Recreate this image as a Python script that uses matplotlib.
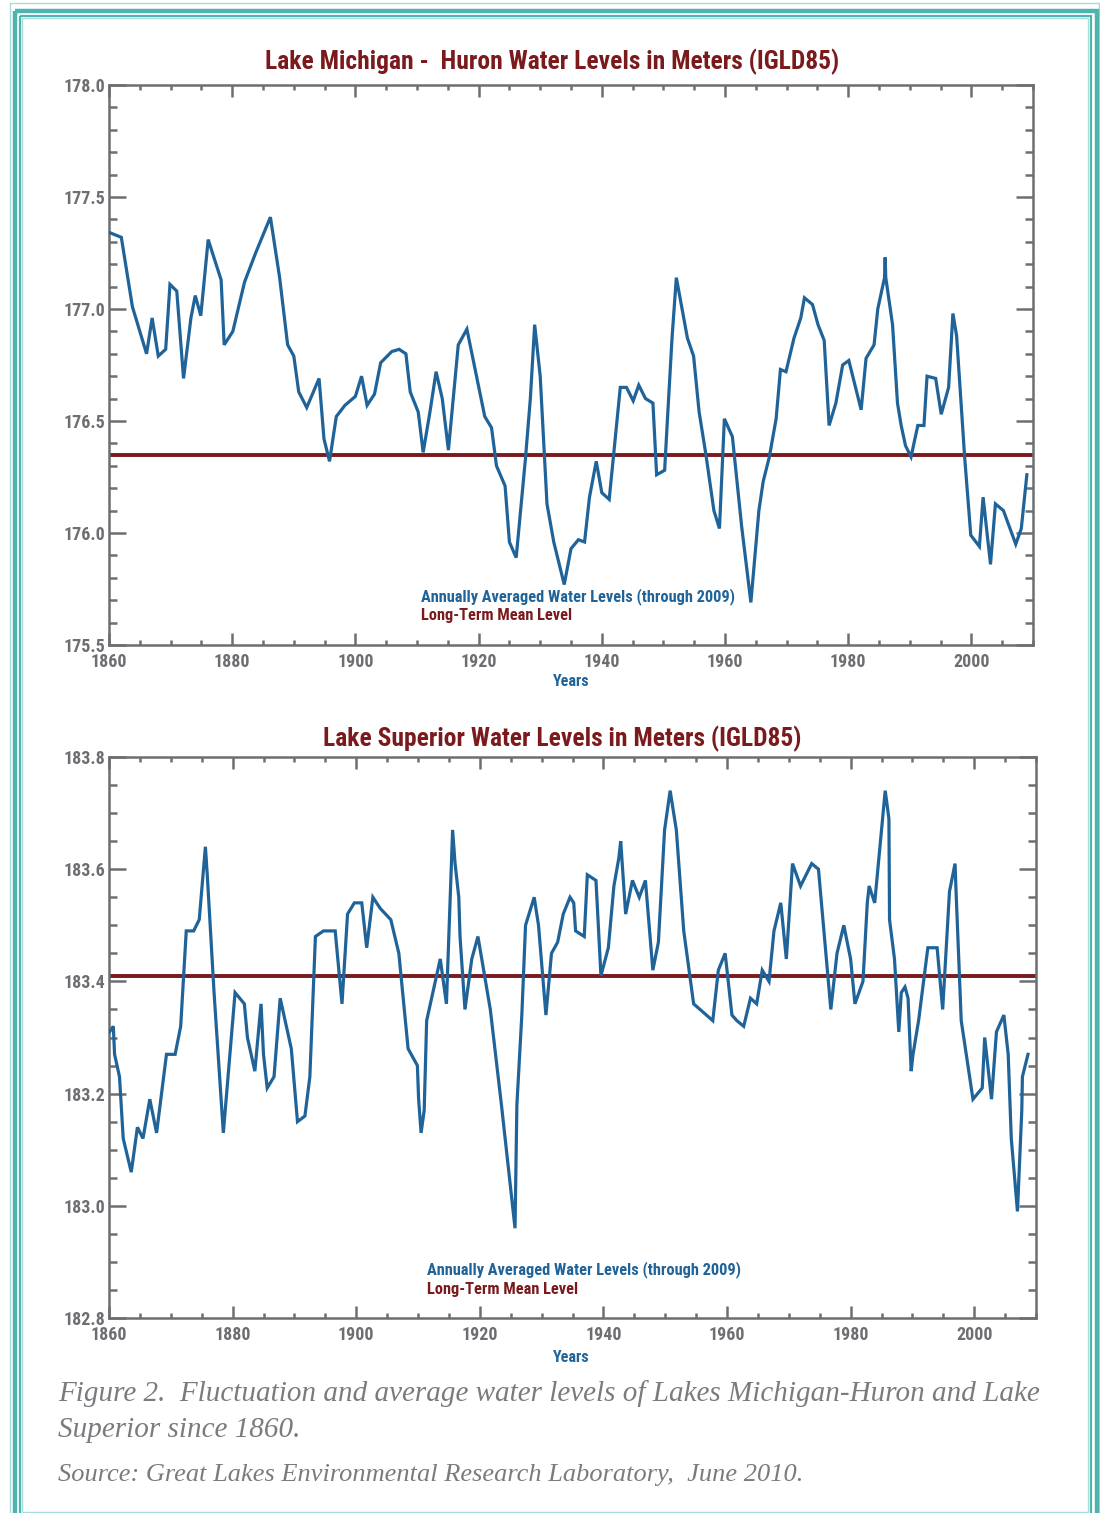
import matplotlib
matplotlib.use("Agg")
import matplotlib.pyplot as plt
from matplotlib import font_manager
from matplotlib.ticker import MultipleLocator, FormatStrFormatter
from matplotlib.patches import Rectangle

# Lake Michigan-Huron, annual averages
years_mh = [1860.2, 1862.0, 1863.8, 1866.1, 1867.0, 1868.0, 1869.2, 1869.9, 1871.0, 1872.1,
            1873.3, 1874.0, 1874.9, 1876.1, 1878.2, 1878.7, 1880.1, 1882.0, 1883.8, 1886.2,
            1887.7, 1889.0, 1890.0, 1890.8, 1892.1, 1894.1, 1894.9, 1895.8, 1896.9, 1898.3,
            1900.0, 1901.0, 1901.9, 1903.1, 1904.1, 1905.9, 1907.1, 1908.2, 1908.9, 1910.2,
            1911.0, 1912.1, 1913.1, 1914.1, 1915.1, 1916.7, 1918.1, 1921.0, 1922.1, 1922.9,
            1924.3, 1925.0, 1926.1, 1927.6, 1928.4, 1929.1, 1930.0, 1931.1, 1932.2, 1933.9,
            1935.0, 1936.2, 1937.2, 1938.0, 1939.1, 1940.0, 1941.2, 1943.0, 1944.0, 1945.1,
            1946.0, 1947.1, 1948.3, 1948.9, 1950.2, 1950.6, 1951.4, 1952.1, 1953.9, 1954.9,
            1955.8, 1956.9, 1958.2, 1959.1, 1959.9, 1961.2, 1962.7, 1964.2, 1965.5, 1966.2,
            1967.2, 1968.3, 1969.0, 1969.9, 1971.2, 1972.3, 1972.9, 1974.2, 1975.1, 1976.1,
            1976.9, 1978.0, 1979.1, 1980.1, 1982.1, 1982.9, 1984.2, 1984.8, 1985.9, 1986.0,
            1986.1, 1987.2, 1988.0, 1988.6, 1989.3, 1990.2, 1991.3, 1992.3, 1992.8, 1994.2,
            1995.1, 1996.3, 1997.0, 1997.6, 1998.9, 1999.9, 2001.3, 2001.9, 2003.1, 2003.9,
            2005.2, 2007.2, 2008.1, 2009.0]
level_mh = [177.34, 177.32, 177.01, 176.80, 176.96, 176.79, 176.82, 177.11, 177.08, 176.69,
            176.96, 177.06, 176.97, 177.31, 177.13, 176.84, 176.90, 177.12, 177.25, 177.41,
            177.14, 176.84, 176.79, 176.63, 176.56, 176.69, 176.42, 176.32, 176.52, 176.57,
            176.61, 176.70, 176.57, 176.62, 176.76, 176.81, 176.82, 176.80, 176.63, 176.54,
            176.36, 176.54, 176.72, 176.60, 176.37, 176.84, 176.91, 176.52, 176.47, 176.30,
            176.21, 175.96, 175.89, 176.33, 176.60, 176.93, 176.70, 176.13, 175.96, 175.77,
            175.93, 175.97, 175.96, 176.16, 176.32, 176.18, 176.15, 176.65, 176.65, 176.59,
            176.66, 176.60, 176.58, 176.26, 176.28, 176.48, 176.87, 177.14, 176.87, 176.79,
            176.54, 176.35, 176.10, 176.02, 176.51, 176.43, 176.03, 175.69, 176.10, 176.23,
            176.34, 176.51, 176.73, 176.72, 176.87, 176.96, 177.05, 177.02, 176.93, 176.86,
            176.48, 176.58, 176.75, 176.77, 176.55, 176.78, 176.84, 177.00, 177.14, 177.23,
            177.14, 176.93, 176.58, 176.48, 176.39, 176.34, 176.48, 176.48, 176.70, 176.69,
            176.53, 176.65, 176.98, 176.88, 176.34, 175.99, 175.94, 176.16, 175.86, 176.13,
            176.10, 175.95, 176.02, 176.26]
mean_mh = 176.35

# Lake Superior
years_sup = [1860.1, 1860.7, 1860.9, 1861.7, 1862.3, 1863.6, 1864.6, 1865.5, 1866.6, 1867.7,
             1869.3, 1870.7, 1871.6, 1872.5, 1873.7, 1874.6, 1875.3, 1875.6, 1875.9, 1877.0,
             1878.5, 1880.4, 1881.9, 1882.4, 1883.6, 1884.6, 1885.0, 1885.6, 1886.7, 1887.7,
             1889.5, 1890.5, 1891.7, 1892.5, 1893.4, 1894.7, 1896.6, 1897.7, 1898.6, 1899.7,
             1900.9, 1901.7, 1902.7, 1903.9, 1905.6, 1906.9, 1908.4, 1909.9, 1910.1, 1910.5,
             1911.0, 1911.4, 1912.2, 1913.6, 1914.6, 1915.6, 1916.0, 1916.6, 1916.8, 1917.6,
             1918.7, 1919.7, 1921.7, 1923.5, 1925.7, 1926.0, 1926.8, 1927.4, 1928.8, 1929.5,
             1930.7, 1931.6, 1932.6, 1933.5, 1934.6, 1935.2, 1935.5, 1936.9, 1937.4, 1938.8,
             1939.6, 1940.8, 1941.7, 1942.5, 1942.8, 1943.6, 1944.7, 1945.8, 1946.8, 1948.0,
             1948.9, 1949.9, 1950.8, 1951.8, 1953.0, 1954.6, 1957.7, 1958.6, 1959.7, 1960.8,
             1961.6, 1962.7, 1963.8, 1964.8, 1965.7, 1966.8, 1967.6, 1968.7, 1969.6, 1970.6,
             1971.9, 1973.7, 1974.8, 1976.8, 1977.8, 1978.9, 1980.0, 1980.7, 1982.0, 1982.7,
             1983.0, 1983.9, 1985.1, 1985.6, 1986.2, 1986.3, 1987.1, 1987.8, 1988.2, 1988.8,
             1989.3, 1989.8, 1990.1, 1991.0, 1992.5, 1994.0, 1994.9, 1996.0, 1996.9, 1997.1,
             1997.9, 1999.8, 2001.3, 2001.7, 2002.8, 2003.6, 2004.8, 2005.5, 2006.0, 2007.0,
             2007.7, 2007.8, 2008.7]
level_sup = [183.31, 183.32, 183.27, 183.23, 183.12, 183.06, 183.14, 183.12, 183.19, 183.13,
             183.27, 183.27, 183.32, 183.49, 183.49, 183.51, 183.60, 183.64, 183.59, 183.38,
             183.13, 183.38, 183.36, 183.30, 183.24, 183.36, 183.27, 183.21, 183.23, 183.37,
             183.28, 183.15, 183.16, 183.23, 183.48, 183.49, 183.49, 183.36, 183.52, 183.54,
             183.54, 183.46, 183.55, 183.53, 183.51, 183.45, 183.28, 183.25, 183.19, 183.13,
             183.17, 183.33, 183.37, 183.44, 183.36, 183.67, 183.61, 183.55, 183.48, 183.35,
             183.44, 183.48, 183.35, 183.18, 182.96, 183.18, 183.34, 183.50, 183.55, 183.50,
             183.34, 183.45, 183.47, 183.52, 183.55, 183.54, 183.49, 183.48, 183.59, 183.58,
             183.41, 183.46, 183.57, 183.62, 183.65, 183.52, 183.58, 183.55, 183.58, 183.42,
             183.47, 183.67, 183.74, 183.67, 183.49, 183.36, 183.33, 183.42, 183.45, 183.34,
             183.33, 183.32, 183.37, 183.36, 183.42, 183.40, 183.49, 183.54, 183.44, 183.61,
             183.57, 183.61, 183.60, 183.35, 183.45, 183.50, 183.44, 183.36, 183.40, 183.54,
             183.57, 183.54, 183.68, 183.74, 183.69, 183.51, 183.44, 183.31, 183.38, 183.39,
             183.37, 183.24, 183.27, 183.33, 183.46, 183.46, 183.35, 183.56, 183.61, 183.55,
             183.33, 183.19, 183.21, 183.30, 183.19, 183.31, 183.34, 183.27, 183.12, 182.99,
             183.17, 183.23, 183.27]
mean_sup = 183.41

BLUE = "#1f6399"
RED = "#7a1a1c"
GRAY = "#6d6e71"
TEAL = "#4fb3ae"
LTEAL = "#a8dcd9"

# condensed sans for the chart labels (falls back to DejaVu if missing)
_names = {f.name for f in font_manager.fontManager.ttflist}
NARROW = "DejaVu Sans"
for cand in ["Roboto Condensed", "Liberation Sans Narrow", "Archivo Narrow", "Barlow Condensed"]:
    if cand in _names:
        NARROW = cand
        break
FAM = [NARROW, "DejaVu Sans"]

W, H = 1100, 1513
fig = plt.figure(figsize=(W / 100, H / 100), dpi=100)

# frame and free text drawn in pixel coordinates on a background axes
bg = fig.add_axes([0, 0, 1, 1], zorder=-5)
bg.set_xlim(0, W)
bg.set_ylim(H, 0)
bg.axis("off")
bg.add_patch(Rectangle((10, 3), 1089, 1540, fill=False, ec=LTEAL, lw=1.0))
bg.add_patch(Rectangle((15, 10.5), 1081.5, 1540, fill=False, ec=TEAL, lw=3.2))
bg.add_patch(Rectangle((19.5, 16), 1071, 1540, fill=False, ec=TEAL, lw=1.6))
bg.add_patch(Rectangle((22, 18), 1066, 1493.5, fill=False, ec=LTEAL, lw=1.0))


def px_axes(l, t, r, b):
    return fig.add_axes([l / W, 1 - b / H, (r - l) / W, (b - t) / H])


def style(ax, ylo, yhi, ymaj, ymin, fmt):
    ax.set_xlim(1860, 2010)
    ax.set_ylim(ylo, yhi)
    ax.xaxis.set_major_locator(MultipleLocator(20))
    ax.xaxis.set_minor_locator(MultipleLocator(5))
    ax.yaxis.set_major_locator(MultipleLocator(ymaj))
    ax.yaxis.set_minor_locator(MultipleLocator(ymin))
    ax.yaxis.set_major_formatter(FormatStrFormatter(fmt))
    for s in ax.spines.values():
        s.set_color(GRAY)
        s.set_linewidth(1.8)
    ax.tick_params(which="both", direction="in", top=True, right=True, color=GRAY, width=1.8)
    ax.tick_params(axis="x", which="major", length=8.5, pad=6)
    ax.tick_params(axis="x", which="minor", length=3.5)
    ax.tick_params(axis="y", which="major", length=12.5, pad=2.5)
    ax.tick_params(axis="y", which="minor", length=6)
    for lab in ax.get_xticklabels() + ax.get_yticklabels():
        lab.set_family(FAM)
        lab.set_fontweight("bold")
        lab.set_fontsize(13)
        lab.set_color(GRAY)


def legend_text(ax, x, y1, y2):
    ax.text(x, y1, "Annually Averaged Water Levels (through 2009)", transform=ax.transAxes,
            family=FAM, fontweight="bold", fontsize=11.8, color=BLUE, va="center")
    ax.text(x, y2, "Long-Term Mean Level", transform=ax.transAxes,
            family=FAM, fontweight="bold", fontsize=11.8, color=RED, va="center")


# Michigan-Huron
ax1 = px_axes(109, 85, 1033, 645)
ax1.plot(years_mh, level_mh, color=BLUE, lw=2.3, solid_joinstyle="miter", zorder=3)
ax1.axhline(mean_mh, color=RED, lw=2.8, zorder=2)
style(ax1, 175.5, 178.0, 0.5, 0.1, "%.1f")
legend_text(ax1, 0.338, 0.086, 0.052)
bg.text(552, 62, "Lake Michigan -  Huron Water Levels in Meters (IGLD85)", family=FAM,
        fontweight="bold", fontsize=18.4, color=RED, ha="center", va="center")
bg.text(571, 682, "Years", family=FAM, fontweight="bold", fontsize=11.5,
        color=BLUE, ha="center", va="center")

# Superior
ax2 = px_axes(109, 757, 1036, 1318)
ax2.plot(years_sup, level_sup, color=BLUE, lw=2.3, solid_joinstyle="miter", zorder=3)
ax2.axhline(mean_sup, color=RED, lw=2.8, zorder=2)
style(ax2, 182.8, 183.8, 0.2, 0.05, "%.1f")
legend_text(ax2, 0.343, 0.086, 0.050)
bg.text(562, 739, "Lake Superior Water Levels in Meters (IGLD85)", family=FAM,
        fontweight="bold", fontsize=18.4, color=RED, ha="center", va="center")
bg.text(571, 1357, "Years", family=FAM, fontweight="bold", fontsize=11.5,
        color=BLUE, ha="center", va="center")

# caption
cap = dict(family=["Liberation Serif", "DejaVu Serif"], style="italic", color="#7a7b7e",
           fontsize=21, va="baseline", ha="left")
bg.text(58, 1401, "Figure 2.  Fluctuation and average water levels of Lakes Michigan-Huron and Lake", **cap)
bg.text(58, 1437, "Superior since 1860.", **cap)
cap["fontsize"] = 19
bg.text(58, 1481, "Source: Great Lakes Environmental Research Laboratory,  June 2010.", **cap)

fig.savefig("out.png", dpi=100)
